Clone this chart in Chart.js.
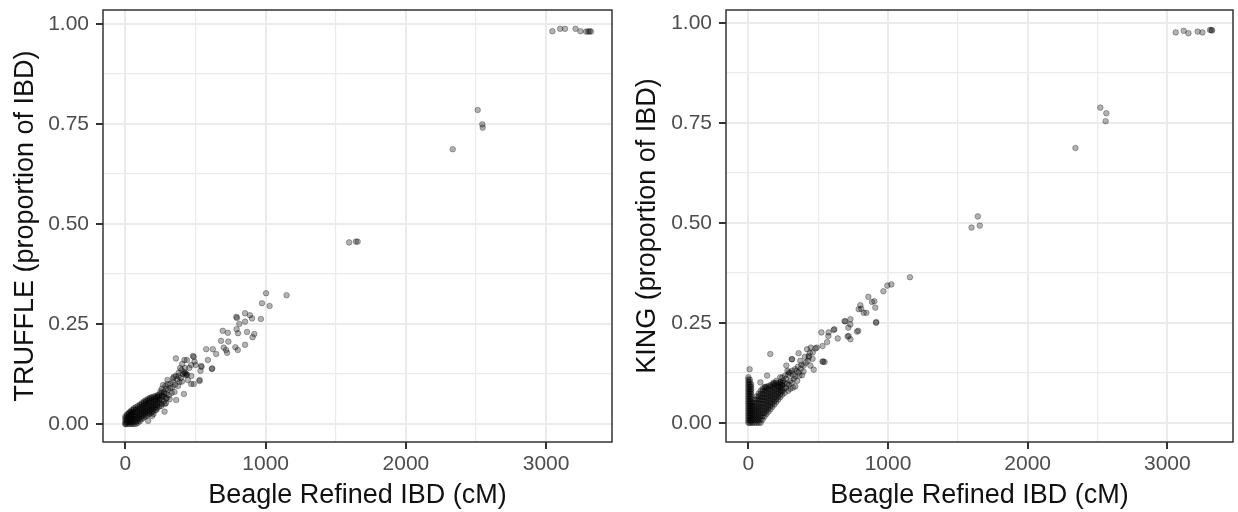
<!DOCTYPE html>
<html>
<head>
<meta charset="utf-8">
<script src="https://cdn.jsdelivr.net/npm/chart.js@4.4.1/dist/chart.umd.min.js"></script>
<style>
  body { margin: 0; background: #ffffff; }
  #wrap { position: relative; width: 1238px; height: 512px; }
  canvas { position: absolute; top: 0; }
</style>
</head>
<body>
<div id="wrap">
  <canvas id="Chart1" width="618" height="512" style="left:0px"></canvas>
  <canvas id="Chart2" width="620" height="512" style="left:618px"></canvas>
</div>
<script>
// [Beagle Refined IBD (cM), proportion of IBD]
// dense cloud near the origin, TRUFFLE
const truffle_core = [
  [0,0],[0,0],[0,0.005],[0,0.01],[0,0.015],[0,0.019],
  [12,0],[12,0.005],[12,0.01],[12,0.015],[12,0.02],[12,0.024],
  [24,0],[24,0.005],[24,0.01],[24,0.015],[24,0.02],[24,0.025],[24,0.028],
  [36,0],[36,0.005],[36,0.01],[36,0.015],[36,0.02],[36,0.025],[36,0.03],[36,0.032],
  [48,0],[48,0.005],[48,0.01],[48,0.015],[48,0.02],[48,0.025],[48,0.03],[48,0.035],
  [60,0],[60,0.006],[60,0.012],[60,0.018],[60,0.024],[60,0.03],[60,0.036],[60,0.039],
  [74,0],[74,0.006],[74,0.012],[74,0.018],[74,0.024],[74,0.03],[74,0.036],[74,0.042],
  [88,0.003],[88,0.009],[88,0.015],[88,0.021],[88,0.027],[88,0.033],[88,0.039],[88,0.045],
  [102,0.007],[102,0.013],[102,0.019],[102,0.025],[102,0.031],[102,0.037],[102,0.043],[102,0.048],
  [116,0.012],[116,0.018],[116,0.024],[116,0.03],[116,0.036],[116,0.042],[116,0.048],[116,0.052],
  [130,0.016],[130,0.022],[130,0.028],[130,0.034],[130,0.04],[130,0.046],[130,0.052],[130,0.056],
  [144,0.019],[144,0.025],[144,0.031],[144,0.037],[144,0.043],[144,0.049],[144,0.055],[144,0.059],
  [158,0.022],[158,0.028],[158,0.034],[158,0.04],[158,0.046],[158,0.052],[158,0.058],[158,0.062],
  [172,0.025],[172,0.031],[172,0.037],[172,0.043],[172,0.049],[172,0.055],[172,0.061],[172,0.065],
  [186,0.028],[186,0.034],[186,0.04],[186,0.046],[186,0.052],[186,0.058],[186,0.064],[186,0.067],
  [200,0.032],[200,0.038],[200,0.044],[200,0.05],[200,0.056],[200,0.062],[200,0.068],
  [214,0.036],[214,0.042],[214,0.048],[214,0.054],[214,0.06],[214,0.066],[214,0.07],
  [228,0.04],[228,0.047],[228,0.054],[228,0.061],[228,0.068],[228,0.072],
  [242,0.044],[242,0.052],[242,0.06],[242,0.068],[242,0.074],
  [258,0.05],[258,0.06],[258,0.07],[258,0.078],
  [274,0.056],[274,0.068],[274,0.08],
  [290,0.064],[290,0.076],[290,0.088]
];

// scattered pairs, TRUFFLE
const truffle_spread = [
  [3045,0.982],[3100,0.988],[3135,0.988],[3210,0.988],[3245,0.982],[3285,0.981],[3300,0.981],[3310,0.982],[3320,0.981],
  [2512,0.785],[2545,0.749],[2548,0.741],[2334,0.687],
  [1595,0.454],[1643,0.456],[1656,0.456],
  [1003,0.327],[1149,0.322],[974,0.302],[1028,0.295],[966,0.2625],
  [791,0.268],[795,0.265],[853,0.277],[888,0.272],[853,0.256],[812,0.25],[903,0.264],
  [694,0.233],[730,0.228],[793,0.237],[867,0.23],[919,0.225],[907,0.217],[803,0.227],
  [682,0.208],[734,0.206],[576,0.187],[623,0.187],[701,0.191],[718,0.185],[784,0.192],
  [853,0.198],[801,0.185],[647,0.175],[725,0.178],[588,0.16],[616,0.1375],
  [481,0.17],[438,0.16],[493,0.156],[469,0.1475],[540,0.145],[535,0.133],[434,0.125],[440,0.123],
  [379,0.128],[339,0.114],[528,0.1075],[469,0.1],[445,0.11],[403,0.106],[303,0.085],
  [362,0.06],[417,0.075],[268,0.0975],[279,0.031],
  [360,0.164],[421,0.16],[487,0.168],[501,0.1475],[543,0.143],[619,0.139],[529,0.11],
  [487,0.1],[425,0.127],[289,0.052],[162,0.008],
  [260,0.088],[285,0.095],[300,0.1],[320,0.09],[340,0.105],[355,0.098],[370,0.112],
  [380,0.12],[395,0.115],[410,0.125],[420,0.13],[430,0.122],[425,0.14],[400,0.135],
  [385,0.105],[350,0.08],[330,0.078],[310,0.072],[295,0.065],[275,0.075],[360,0.12],
  [345,0.118],[300,0.11],[455,0.14],[470,0.12],[320,0.1],[335,0.092],[250,0.082],
  [265,0.07],[240,0.06],[230,0.068],[390,0.14],[405,0.15],[375,0.095],[315,0.062],
  [280,0.05],[255,0.045],[200,0.025],[190,0.02],[220,0.035]
];

// dense cloud near the origin, KING (spike at ~0 cM plus the diagonal)
const king_core = [
  [0,0],[0,0.006],[0,0.012],[0,0.018],[0,0.024],[0,0.03],[0,0.036],[0,0.042],[0,0.048],[0,0.054],
  [0,0.06],[0,0.066],[0,0.072],[0,0.078],[0,0.084],[0,0.09],[0,0.096],[0,0.102],[0,0.108],[0,0.114],
  [10,0],[10,0.006],[10,0.012],[10,0.018],[10,0.024],[10,0.03],[10,0.036],[10,0.042],[10,0.048],[10,0.054],
  [10,0.06],[10,0.066],[10,0.072],[10,0.078],[10,0.084],[10,0.09],[10,0.096],[10,0.102],[10,0.108],
  [20,0],[20,0.006],[20,0.012],[20,0.018],[20,0.024],[20,0.03],[20,0.036],[20,0.042],[20,0.048],
  [20,0.054],[20,0.06],[20,0.066],[20,0.072],[20,0.078],[20,0.084],[20,0.09],[20,0.096],
  [32,0],[32,0.007],[32,0.014],[32,0.021],[32,0.028],[32,0.035],[32,0.042],[32,0.05],
  [46,0],[46,0.007],[46,0.014],[46,0.021],[46,0.028],[46,0.035],[46,0.042],[46,0.05],[46,0.058],
  [60,0],[60,0.007],[60,0.014],[60,0.021],[60,0.028],[60,0.035],[60,0.042],[60,0.05],[60,0.058],[60,0.066],
  [74,0],[74,0.007],[74,0.014],[74,0.021],[74,0.028],[74,0.035],[74,0.042],[74,0.05],[74,0.058],[74,0.066],[74,0.073],
  [88,0],[88,0.008],[88,0.016],[88,0.024],[88,0.032],[88,0.04],[88,0.048],[88,0.056],[88,0.064],[88,0.072],[88,0.08],
  [102,0.008],[102,0.016],[102,0.024],[102,0.032],[102,0.04],[102,0.048],[102,0.056],[102,0.064],[102,0.072],[102,0.08],[102,0.085],
  [116,0.016],[116,0.024],[116,0.032],[116,0.04],[116,0.048],[116,0.056],[116,0.064],[116,0.072],[116,0.08],[116,0.088],
  [130,0.022],[130,0.03],[130,0.038],[130,0.046],[130,0.054],[130,0.062],[130,0.07],[130,0.078],[130,0.086],[130,0.09],
  [144,0.028],[144,0.036],[144,0.044],[144,0.052],[144,0.06],[144,0.068],[144,0.076],[144,0.084],[144,0.092],
  [158,0.034],[158,0.042],[158,0.05],[158,0.058],[158,0.066],[158,0.074],[158,0.082],[158,0.09],[158,0.094],
  [172,0.04],[172,0.048],[172,0.056],[172,0.064],[172,0.072],[172,0.08],[172,0.088],[172,0.096],
  [186,0.046],[186,0.054],[186,0.062],[186,0.07],[186,0.078],[186,0.086],[186,0.094],[186,0.098],
  [200,0.052],[200,0.06],[200,0.068],[200,0.076],[200,0.084],[200,0.092],[200,0.1],
  [214,0.058],[214,0.066],[214,0.074],[214,0.082],[214,0.09],[214,0.098],
  [228,0.064],[228,0.072],[228,0.08],[228,0.088],[228,0.096],[228,0.102],
  [242,0.07],[242,0.078],[242,0.086],[242,0.094],[242,0.1]
];

// scattered pairs, KING
const king_spread = [
  [3060,0.976],[3117,0.98],[3151,0.974],[3217,0.978],[3251,0.976],[3305,0.982],[3316,0.982],[3320,0.981],
  [2520,0.788],[2563,0.774],[2558,0.754],[2342,0.687],
  [1598,0.488],[1643,0.516],[1657,0.493],
  [1157,0.364],[1024,0.346],[995,0.343],[967,0.329],[859,0.315],[802,0.294],[902,0.304],
  [808,0.285],[845,0.275],[909,0.288],[916,0.252],[689,0.254],[731,0.259],[716,0.238],
  [787,0.23],[711,0.216],[731,0.209],[616,0.234],[573,0.217],[523,0.226],[531,0.192],[531,0.153],
  [157,0.172],[9,0.134],[134,0.118],[86,0.101],[313,0.159],[372,0.155],[360,0.174],
  [420,0.184],[480,0.186],[432,0.167],[535,0.153],[468,0.133],[444,0.143],[396,0.143],
  [272,0.143],[313,0.13],[360,0.126],[384,0.119],[336,0.116],[229,0.114],[301,0.105],
  [336,0.091],[277,0.097],[575,0.226],[611,0.232],[640,0.211],[564,0.202],[694,0.254],
  [730,0.246],[718,0.217],[778,0.228],[790,0.284],[826,0.275],[885,0.302],[914,0.25],
  [291,0.126],[334,0.134],[433,0.164],[461,0.176],[490,0.188],[447,0.188],[263,0.118],
  [243,0.113],[311,0.159],[546,0.152],
  [250,0.105],[270,0.11],[285,0.12],[300,0.125],[320,0.12],[345,0.13],[355,0.14],
  [375,0.135],[395,0.128],[410,0.15],[425,0.155],[405,0.165],[440,0.175],[460,0.16],
  [280,0.13],[260,0.1],[290,0.095],[310,0.1],[325,0.11],[350,0.105],[365,0.118],
  [380,0.145],[240,0.095],[255,0.085],[270,0.088],[300,0.085],[230,0.1],[215,0.09],
  [285,0.08],[320,0.088],[260,0.075],[240,0.08],[200,0.105],[180,0.1],[120,0.09]
];

// major and minor grid breaks, as ggplot draws them
const x_breaks = [0, 500, 1000, 1500, 2000, 2500, 3000];
const y_breaks = [0, 0.125, 0.25, 0.375, 0.5, 0.625, 0.75, 0.875, 1];

const x_title = 'Beagle Refined IBD (cM)';
const font_family = '"Liberation Sans", Arial, Helvetica, sans-serif';

function is_major(v, step) {
  let q = v / step;
  return Math.abs(q - Math.round(q)) < 1e-6;
}

function to_xy(pairs) {
  return pairs.map(p => ({x: p[0], y: p[1]}));
}

// ggplot theme_bw style frame round the panel
const panel_border = {
  id: 'panel_border',
  afterDatasetsDraw(chart) {
    const ctx = chart.ctx;
    const a = chart.chartArea;
    ctx.save();
    ctx.strokeStyle = '#333333';
    ctx.lineWidth = 1.5;
    ctx.strokeRect(a.left, a.top, a.right - a.left, a.bottom - a.top);
    ctx.restore();
  }
};

function make_chart(id, core, spread, y_title, y_min, y_max, box) {
  let point_style = {
    showLine: false,
    pointRadius: 2.8,
    pointHoverRadius: 2.8,
    pointBorderWidth: 1,
    backgroundColor: 'rgba(0,0,0,0.3)',
    borderColor: 'rgba(0,0,0,0.3)'
  };
  let data = {
    datasets: [
      Object.assign({label: 'core', data: to_xy(core)}, point_style),
      Object.assign({label: 'spread', data: to_xy(spread)}, point_style)
    ]
  };
  let tick_font = {family: font_family, size: 21, lineHeight: 1.0};
  let title_font = {family: font_family, size: 27, lineHeight: 1.2};
  let config = {
    type: 'scatter',
    data: data,
    options: {
      responsive: false,
      animation: false,
      devicePixelRatio: 1,
      events: [],
      layout: {padding: {top: 10, right: box.right, left: 0, bottom: 0}},
      plugins: {legend: {display: false}, tooltip: {enabled: false}},
      scales: {
        x: {
          type: 'linear',
          min: -160,
          max: 3470,
          afterBuildTicks: s => { s.ticks = x_breaks.map(v => ({value: v})); },
          afterFit: s => { s.height = 70; s.paddingLeft = 0; s.paddingRight = 0; },
          border: {display: false},
          grid: {
            color: '#ebebeb',
            lineWidth: c => is_major(c.tick.value, 1000) ? 2 : 1.2,
            tickLength: 7,
            tickWidth: 2,
            tickColor: c => is_major(c.tick.value, 1000) ? '#333333' : 'rgba(0,0,0,0)'
          },
          ticks: {
            autoSkip: false,
            maxRotation: 0,
            padding: 5,
            color: '#4d4d4d',
            font: tick_font,
            callback: v => is_major(v, 1000) ? String(v) : ''
          },
          title: {display: true, text: x_title, color: '#111111', font: title_font, padding: {top: 0, bottom: 0}}
        },
        y: {
          type: 'linear',
          min: y_min,
          max: y_max,
          afterBuildTicks: s => { s.ticks = y_breaks.map(v => ({value: v})); },
          afterFit: s => { s.width = box.left; s.paddingTop = 0; s.paddingBottom = 0; },
          border: {display: false},
          grid: {
            color: '#ebebeb',
            lineWidth: c => is_major(c.tick.value, 0.25) ? 2 : 1.2,
            tickLength: 7,
            tickWidth: 2,
            tickColor: c => is_major(c.tick.value, 0.25) ? '#333333' : 'rgba(0,0,0,0)'
          },
          ticks: {
            autoSkip: false,
            padding: 7,
            color: '#4d4d4d',
            font: tick_font,
            callback: v => is_major(v, 0.25) ? v.toFixed(2) : ''
          },
          title: {display: true, text: y_title, color: '#111111', font: title_font, padding: {top: box.title_pad, bottom: 0}}
        }
      }
    },
    plugins: [panel_border]
  };
  new Chart(document.getElementById(id), config);
}

make_chart('Chart1', truffle_core, truffle_spread, 'TRUFFLE (proportion of IBD)', -0.045, 1.035,
  {left: 103, right: 6, title_pad: 9});
make_chart('Chart2', king_core, king_spread, 'KING (proportion of IBD)', -0.048, 1.032,
  {left: 108, right: 5, title_pad: 13});
</script>
</body>
</html>
